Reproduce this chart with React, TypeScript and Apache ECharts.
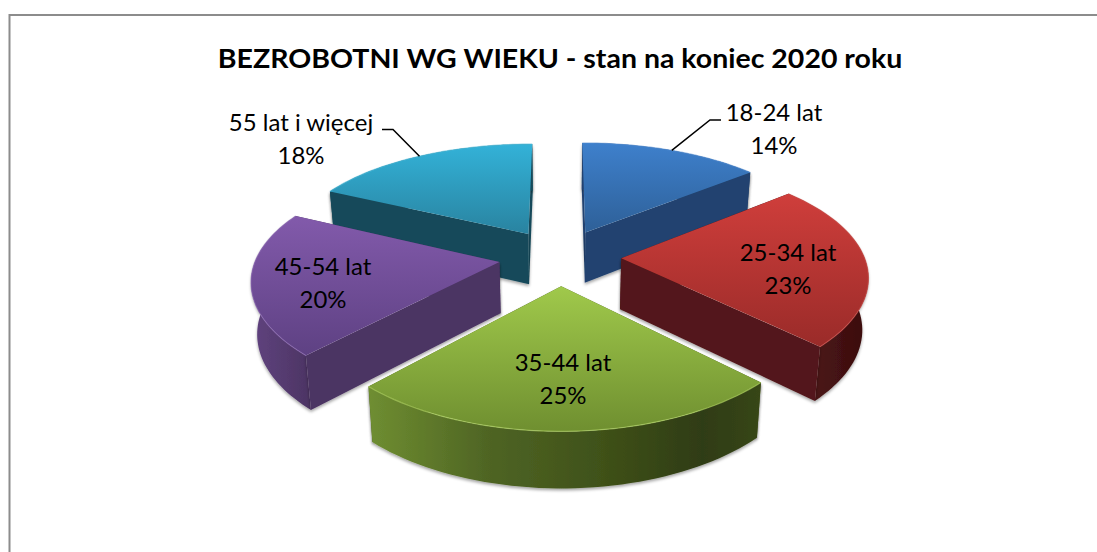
import React, { useEffect, useRef } from "react";
import * as echarts from "echarts";

const title = "BEZROBOTNI WG WIEKU - stan na koniec 2020 roku";
const categories = ["18-24 lat", "25-34 lat", "35-44 lat", "45-54 lat", "55 lat i więcej"];
const shares = [14, 23.4, 24.6, 20.2, 17.8];

const topStart = ["#3e80cc", "#cf3e3b", "#a0c94b", "#825aab", "#33b2d8"];
const topEnd = ["#2e6098", "#9a2b29", "#6f8f30", "#5e4183", "#2983a0"];
const faceColors = ["#21426f", "#52171a", "#47591f", "#4c3463", "#164a5a"];
const wallStops: [number, string][][] = [
  [[0, "#21426f"], [1, "#21426f"]],
  [[0, "#541819"], [1, "#3a0e0e"]],
  [[0, "#6f8e31"], [0.3, "#4f6524"], [0.6, "#3f5119"], [0.85, "#2f3c12"], [1, "#374616"]],
  [[0, "#60437f"], [1, "#4c3463"]],
  [[0, "#164a5a"], [1, "#164a5a"]],
];
const rimColors = ["#4f8bd2", "#d2504b", "#b6d868", "#8f6cb5", "#4cbcdc"];

// Layout of the 3D projection (screen pixels)
const CX = 560, CY = 257, RX = 243, PLANE = 111.2, PERSP = 0.161, PERSP_X = 0.14, EXPLODE = 0.252, HEIGHT = 51;
const labelAt: [number, number][] = [[774, 128.5], [788, 268.5], [563, 378.5], [323, 282.5], [301, 138.5]];
const leaderKnee: ([number, number, number, number] | null)[] = [
  [710, 120, 721, 120], null, null, null, [393, 129.5, 382, 129.5],
];
const FONT = "Lato, 'Open Sans', sans-serif";

function project(X: number, D: number, bottom: boolean): number[] {
  const s = 1 / (1 - PERSP * D);
  const sx = 1 / (1 - PERSP_X * D);
  let x = CX + RX * X * sx;
  let y = CY + PLANE * D * s;
  if (bottom) {
    x = CX + (x - CX) * 0.98;
    y += HEIGHT * Math.sqrt(s);
  }
  return [x, y];
}

const total = shares.reduce((a, b) => a + b, 0);
function sliceAngles(i: number) {
  const before = shares.slice(0, i).reduce((a, b) => a + b, 0);
  const a = (before / total) * Math.PI * 2;
  const b = ((before + shares[i]) / total) * Math.PI * 2;
  return { a, b, mid: (a + b) / 2 };
}

function renderItem(params: any) {
  const i = params.dataIndex;
  const { a, b, mid } = sliceAngles(i);
  const ox = EXPLODE * Math.sin(mid);
  const oy = -EXPLODE * Math.cos(mid);
  const rim = (t: number, bottom: boolean) => project(ox + Math.sin(t), oy - Math.cos(t), bottom);
  const apexTop = project(ox, oy, false);
  const apexBot = project(ox, oy, true);
  const N = 48;
  const topArc: number[][] = [];
  const botArc: number[][] = [];
  for (let k = 0; k <= N; k++) {
    const t = a + ((b - a) * k) / N;
    topArc.push(rim(t, false));
    botArc.push(rim(t, true));
  }
  const order = [0, 4, 1, 3, 2].indexOf(i);
  const base = 10 + order * 10;
  const shadow = { shadowColor: "rgba(0,0,0,0.35)", shadowBlur: 3, shadowOffsetY: 2 };
  const startFront = -Math.sin(a) > 0.01;
  const endFront = Math.sin(b) > 0.01;
  const children: any[] = [
    {
      type: "polygon",
      z2: startFront ? base + 3 : base,
      shape: { points: [apexTop, topArc[0], botArc[0], apexBot] },
      style: { fill: faceColors[i], ...shadow },
    },
    {
      type: "polygon",
      z2: endFront ? base + 3 : base + 1,
      shape: { points: [apexTop, topArc[N], botArc[N], apexBot] },
      style: { fill: faceColors[i], ...shadow },
    },
    {
      type: "polygon",
      z2: base + 2,
      shape: { points: [...topArc, ...botArc.slice().reverse()] },
      style: {
        fill: new echarts.graphic.LinearGradient(0, 0, 1, 0, wallStops[i].map(([offset, color]) => ({ offset, color }))),
        ...shadow,
      },
    },
    {
      type: "polygon",
      z2: base + 4,
      shape: { points: [apexTop, ...topArc] },
      style: {
        fill: new echarts.graphic.LinearGradient(0, 0, 0, 1, [
          { offset: 0, color: topStart[i] },
          { offset: 1, color: topEnd[i] },
        ]),
      },
    },
    {
      type: "polyline",
      z2: base + 5,
      shape: { points: topArc },
      style: { stroke: rimColors[i], lineWidth: 1.2, fill: "none", opacity: 0.6 },
    },
  ];
  const knee = leaderKnee[i];
  if (knee) {
    children.push({
      type: "polyline",
      z2: 100,
      shape: { points: [rim(mid, false), [knee[0], knee[1]], [knee[2], knee[3]]] },
      style: { stroke: "#000", lineWidth: 1.5, fill: "none" },
    });
  }
  children.push({
    type: "text",
    z2: 101,
    x: labelAt[i][0],
    y: labelAt[i][1],
    scaleX: 1.02,
    style: {
      text: `${categories[i]}\n${Math.round(shares[i])}%`,
      x: 0,
      y: 0,
      align: "center",
      verticalAlign: "middle",
      font: `23.5px ${FONT}`,
      lineHeight: 33.5,
      fill: "#000",
    },
  });
  return { type: "group", children };
}

export default function App() {
  const ref = useRef<HTMLDivElement>(null);
  useEffect(() => {
    const chart = echarts.init(ref.current!, undefined, { renderer: "svg" });
    chart.setOption({
      animation: false,
      backgroundColor: "#fff",
      graphic: [
        {
          type: "polyline",
          silent: true,
          shape: { points: [[9.5, 552], [9.5, 15], [1097, 15]] },
          style: { stroke: "#8c8c8c", lineWidth: 2, fill: "none" },
        },
        {
          type: "text",
          silent: true,
          x: 560,
          y: 57.5,
          scaleX: 1.055,
          style: {
            text: title,
            x: 0,
            y: 0,
            align: "center",
            verticalAlign: "middle",
            font: `bold 27px ${FONT}`,
            fill: "#000",
          },
        },
      ],
      series: [
        {
          type: "custom",
          coordinateSystem: "none",
          renderItem,
          data: shares.map((v, i) => ({ name: categories[i], value: v })),
        },
      ],
    });
    return () => chart.dispose();
  }, []);
  return <div ref={ref} style={{ position: "absolute", left: 0, top: 0, width: 1097, height: 552 }} />;
}
